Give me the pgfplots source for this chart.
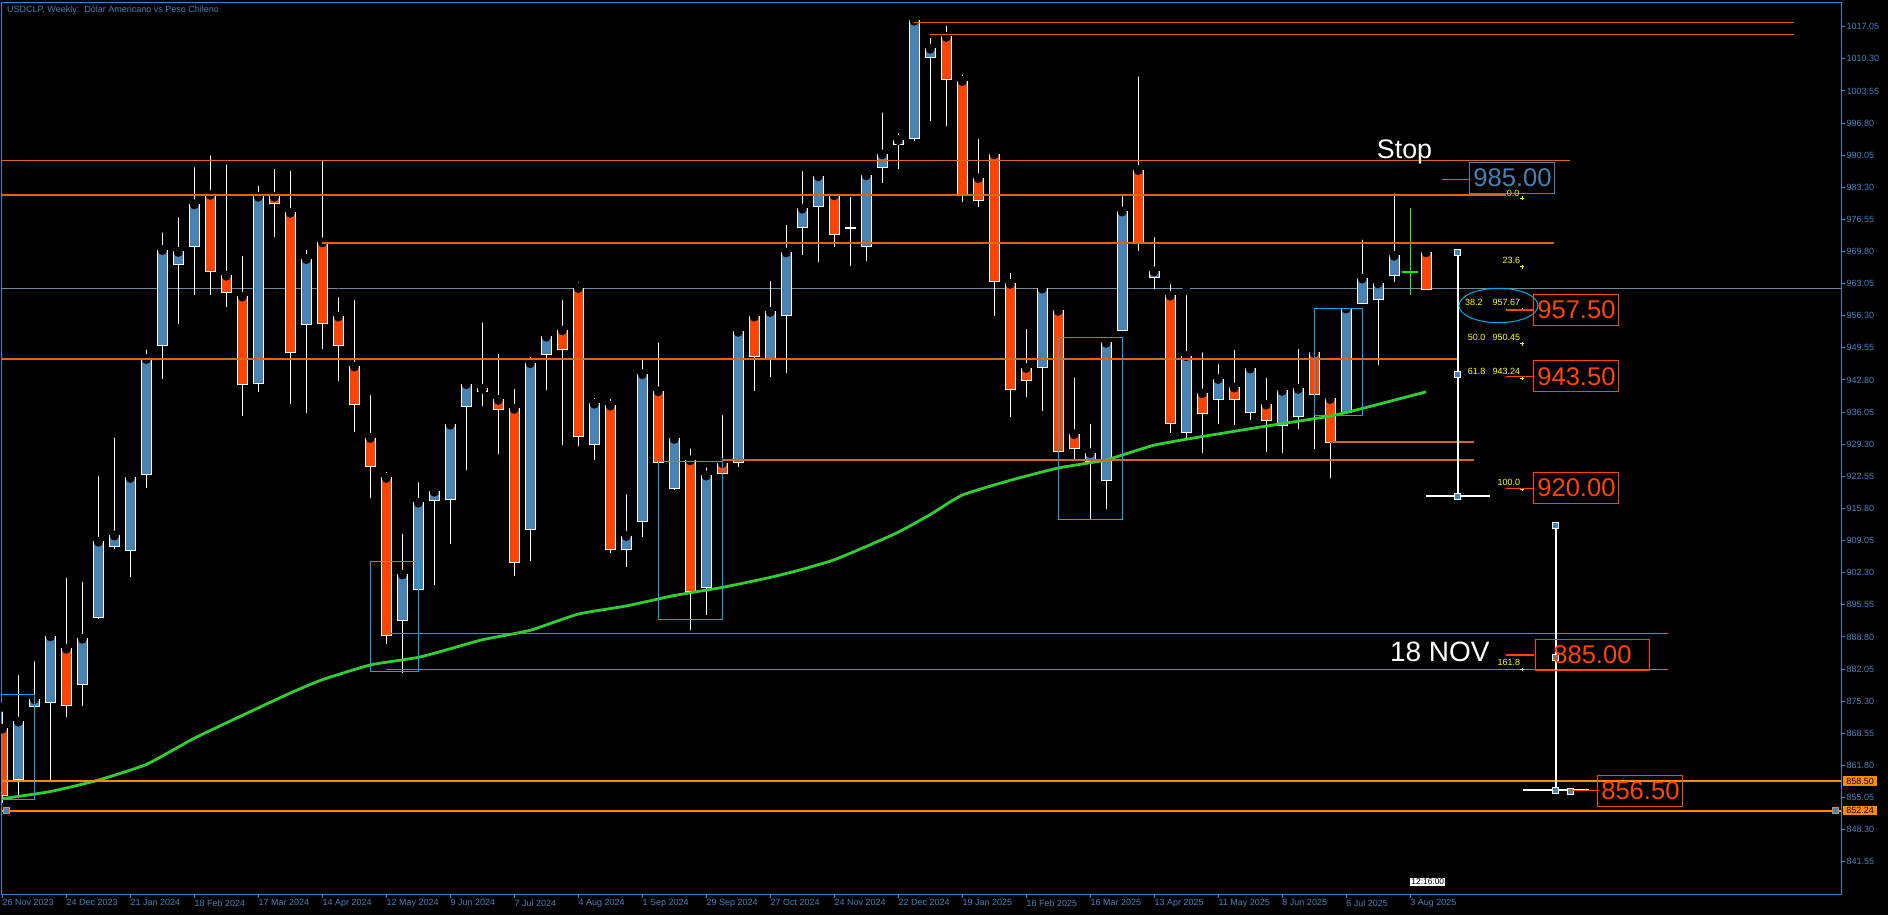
\documentclass[border=0pt]{standalone}
\usepackage{pgfplots}
\pgfplotsset{compat=1.18}
\usepackage{pgfplotstable}
\usepackage{fontspec}
\setmainfont{Liberation Sans}
\definecolor{axc}{RGB}{70,130,190}
\definecolor{bull}{RGB}{70,130,180}
\definecolor{bear}{RGB}{255,69,0}
\definecolor{lvl}{RGB}{210,105,30}
\definecolor{dko}{RGB}{255,140,0}
\definecolor{ma}{RGB}{50,205,50}
\definecolor{bid}{RGB}{119,136,153}
\definecolor{fib}{RGB}{255,255,0}

\pgfplotstableread{
i O H L C
1 858.9 881.7 855.5 870.9
2 874.3 884.6 873.0 875.6
3 875.1 890.6 858.3 888.8
5 878.9 901.3 874.3 888.3
6 893.0 923.5 892.5 908.7
7 908.0 931.6 907.3 910.0
8 907.1 922.6 901.3 922.1
9 923.1 950.1 920.1 947.1
10 950.2 974.7 943.0 970.0
11 967.1 977.9 954.6 969.6
12 971.0 988.4 960.6 979.6
16 942.2 984.5 940.2 981.2
19 954.5 971.0 935.8 968.1
25 892.3 911.4 881.2 901.8
26 898.8 922.2 898.5 916.9
27 917.6 920.3 899.7 919.2
28 917.8 933.5 908.3 933.3
29 937.3 943.0 923.9 941.8
33 911.4 948.6 904.7 946.2
34 948.2 952.5 940.7 951.8
37 929.4 939.9 926.0 937.7
39 907.3 919.7 903.5 909.9
40 913.1 948.0 909.7 943.9
42 920.0 930.5 919.6 930.3
44 899.2 925.3 893.4 922.6
46 925.5 953.6 924.5 952.8
48 947.3 964.5 943.5 957.0
49 956.4 976.3 944.3 969.5
50 974.9 987.6 969.1 978.7
51 979.3 986.5 967.5 985.5
54 970.9 987.7 967.9 985.7
55 987.5 999.9 984.2 990.1
56 992.4 995.5 987.2 993.1
57 993.7 1019.9 993.0 1018.2
58 1010.6 1015.6 997.2 1012.3
65 945.6 962.2 936.3 961.9
68 925.8 934.5 913.4 927.3
69 921.8 951.5 915.7 950.5
70 953.4 982.3 953.0 978.1
72 964.4 973.7 961.9 965.5
74 931.9 961.5 930.3 947.7
76 938.7 947.0 933.5 942.9
78 936.0 946.6 934.4 945.1
80 933.3 942.4 927.5 940.4
81 935.3 950.2 932.5 940.8
84 936.1 958.6 935.8 957.7
85 959.0 973.2 958.8 964.0
86 959.8 963.2 946.0 963.0
87 964.9 982.9 963.3 968.8
}\bulltab

\pgfplotstableread{
i O H L C
0 869.4 874.0 853.8 855.5
4 886.2 902.1 872.0 874.5
13 981.6 990.9 960.6 965.6
14 964.6 989.0 958.1 961.3
15 960.2 969.8 935.3 942.0
17 981.2 988.1 972.9 979.9
18 977.8 987.7 937.7 948.6
20 971.6 989.9 949.3 954.7
21 956.0 961.1 942.6 950.2
22 945.5 960.5 931.8 937.8
23 930.5 940.5 917.9 924.7
24 922.1 924.4 887.3 889.1
30 940.8 955.8 937.4 940.4
31 938.5 949.2 927.3 936.7
32 936.6 941.8 901.6 904.6
35 953.1 960.5 929.2 949.4
36 962.0 964.2 928.9 931.1
38 937.3 939.7 906.4 907.3
41 940.3 951.6 925.3 925.6
43 925.8 929.3 890.2 898.4
45 925.2 936.3 921.5 923.3
47 956.0 956.7 940.5 947.9
52 981.5 982.6 970.7 973.5
59 1014.8 1018.1 996.2 1006.1
60 1005.5 1007.9 980.1 981.8
61 985.1 994.4 979.1 980.6
62 990.1 990.3 956.3 963.6
63 962.9 966.2 935.0 940.8
64 945.2 954.4 939.2 942.7
66 957.2 957.9 927.5 927.9
67 931.3 944.2 926.2 928.4
71 986.8 1007.5 970.0 971.9
73 960.4 963.8 931.7 933.8
75 939.9 949.5 927.4 935.9
77 941.1 950.0 933.3 938.9
79 937.5 944.1 927.7 934.3
82 948.4 948.6 928.3 939.8
83 938.7 938.9 922.2 929.8
89 969.5 971.5 961.7 962.0
}\beartab

\pgfplotstableread{
i v
0 854.8
3 856.3
6 858.7
9 862.0
12 867.5
15 872.3
18 877.0
20 879.8
23 882.9
26 884.5
28 886.3
30 888.2
33 890.2
36 893.6
39 895.3
42 897.5
45 899.2
48 901.3
50 903.0
52 905.0
54 907.8
56 910.8
58 914.5
60 918.6
63 921.7
66 924.3
69 926.0
72 929.1
75 930.9
79 933.1
83 935.2
85 936.8
89 940.3
}\matab

\tikzset{
  bigbox/.style={draw=bear, text=bear, line width=0.5pt, minimum width=42.5pt, minimum height=15.5pt, inner sep=0pt, font=\fontsize{12.8}{13}\selectfont},
  fibt/.style={text=fib, inner sep=0pt, font=\fontsize{4.5}{5}\selectfont},
}

\begin{document}
\begin{tikzpicture}
\useasboundingbox (0,0) rectangle (944pt,457.5pt);
\fill[black] (0,0) rectangle (944pt,457.5pt);
\begin{axis}[
  at={(1pt,10.5pt)}, anchor=south west,
  scale only axis, width=919.5pt, height=445.5pt,
  xmin=-0.02, xmax=114.94, ymin=834.77, ymax=1022.03,
  clip mode=individual,
  axis line style={draw=axc, line width=0.5pt},
  tick align=outside, major tick length=2pt,
  tick style={draw=axc, line width=0.5pt},
  xtick pos=left, ytick pos=right, yticklabel pos=right,
  xtick={0,4,...,88},
  xticklabels={26 Nov 2023,24 Dec 2023,21 Jan 2024,18 Feb 2024,17 Mar 2024,14 Apr 2024,12 May 2024,9 Jun 2024,7 Jul 2024,4 Aug 2024,1 Sep 2024,29 Sep 2024,27 Oct 2024,24 Nov 2024,22 Dec 2024,19 Jan 2025,16 Feb 2025,16 Mar 2025,13 Apr 2025,11 May 2025,8 Jun 2025,6 Jul 2025,3 Aug 2025},
  ytick={841.55,848.30,855.05,861.80,868.55,875.30,882.05,888.80,895.55,902.30,909.05,915.80,922.55,929.30,936.05,942.80,949.55,956.30,963.05,969.80,976.55,983.30,990.05,996.80,1003.55,1010.30,1017.05},
  yticklabels={841.55,848.30,855.05,861.80,868.55,875.30,882.05,888.80,895.55,902.30,909.05,915.80,922.55,929.30,936.05,942.80,949.55,956.30,963.05,969.80,976.55,983.30,990.05,996.80,1003.55,1010.30,1017.05},
  /pgf/number format/assume math mode=true,
  ticklabel style={font=\fontsize{4.5}{5}\selectfont, text=axc},
  xticklabel style={anchor=north west, inner sep=0.6pt, xshift=-0.6pt},
  yticklabel style={anchor=west, inner sep=0.6pt},
]
% bid line
\addplot[bid, line width=0.5pt] coordinates {(-1,962.0) (116,962.0)};
% wicks
\addplot[only marks, mark=none, error bars/.cd, y dir=minus, y explicit, error mark=none, error bar style={draw=white, line width=0.55pt}]
  table[x=i, y=H, y error minus expr=\thisrow{H}-\thisrow{L}] {\bulltab};
\addplot[only marks, mark=none, error bars/.cd, y dir=minus, y explicit, error mark=none, error bar style={draw=white, line width=0.55pt}]
  table[x=i, y=H, y error minus expr=\thisrow{H}-\thisrow{L}] {\beartab};
% bodies: white border
\addplot[only marks, mark=none, error bars/.cd, y dir=minus, y explicit, error mark=none, error bar style={draw=white, line width=5.5pt}]
  table[x=i, y expr=\thisrow{C}+0.21, y error minus expr=\thisrow{C}-\thisrow{O}+0.42] {\bulltab};
\addplot[only marks, mark=none, error bars/.cd, y dir=minus, y explicit, error mark=none, error bar style={draw=white, line width=5.5pt}]
  table[x=i, y expr=\thisrow{O}+0.21, y error minus expr=\thisrow{O}-\thisrow{C}+0.42] {\beartab};
% bodies: fill
\addplot[only marks, mark=none, error bars/.cd, y dir=minus, y explicit, error mark=none, error bar style={draw=bull, line width=4.5pt}]
  table[x=i, y=C, y error minus expr=\thisrow{C}-\thisrow{O}] {\bulltab};
\addplot[only marks, mark=none, error bars/.cd, y dir=minus, y explicit, error mark=none, error bar style={draw=bear, line width=4.5pt}]
  table[x=i, y=O, y error minus expr=\thisrow{O}-\thisrow{C}] {\beartab};
% doji candles
\addplot[white, line width=0.55pt] coordinates {(53,981.3) (53,966.7)};
\addplot[white, line width=1pt] coordinates {(52.65,974.7) (53.35,974.7)};
\addplot[green, line width=0.55pt] coordinates {(88,979.0) (88,960.7)};
\addplot[green, line width=0.55pt] coordinates {(87.5,965.5) (88.5,965.5)};
% moving average
\addplot[ma, line width=1.4pt, smooth, tension=0.3] table[x=i, y=v] {\matab};
% horizontal levels
\addplot[lvl, line width=0.8pt] coordinates {(57,1017.9) (112,1017.9)};
\addplot[lvl, line width=0.8pt] coordinates {(58,1015.4) (112,1015.4)};
\addplot[lvl, line width=0.8pt] coordinates {(-1,988.9) (98,988.9)};
\addplot[lvl, line width=0.8pt] coordinates {(-1,981.7) (94,981.7)};
\addplot[lvl, line width=0.8pt] coordinates {(20,971.6) (97,971.6)};
\addplot[lvl, line width=0.8pt] coordinates {(-1,947.2) (91,947.2)};
\addplot[lvl, line width=0.8pt] coordinates {(83,929.8) (92,929.8)};
\addplot[lvl, line width=0.8pt] coordinates {(45,926.0) (92,926.0)};
\addplot[lvl, line width=0.8pt] coordinates {(24,889.5) (104.1,889.5)};
\addplot[lvl, line width=0.8pt] coordinates {(24,881.95) (104.1,881.95)};
\addplot[dko, line width=0.7pt] coordinates {(-1,858.5) (116,858.5)};
\addplot[dko, line width=0.7pt] coordinates {(-1,852.24) (116,852.24)};
\addplot[only marks, mark=square*, mark size=1.5pt, mark options={fill=bull, draw=dko, line width=0.4pt}] coordinates {(0.25,852.24) (114.6,852.24)};
% cyan boxes
\addplot[cyan, line width=0.5pt] coordinates {(-1,854.6) (2,854.6) (2,876.8) (-1,876.8)};
\addplot[cyan, line width=0.5pt] coordinates {(23,881.6) (26,881.6) (26,904.7) (23,904.7) (23,881.6)};
\addplot[cyan, line width=0.5pt] coordinates {(41,892.4) (45,892.4) (45,925.6) (41,925.6) (41,892.4)};
\addplot[cyan, line width=0.5pt] coordinates {(66,913.4) (70,913.4) (70,951.8) (66,951.8) (66,913.4)};
\addplot[cyan, line width=0.5pt] coordinates {(82,935.3) (85,935.3) (85,957.9) (82,957.9) (82,935.3)};
% price range tools
\addplot[white, line width=1pt] coordinates {(90.98,969.6) (90.98,918.4)};
\addplot[white, line width=1pt] coordinates {(89,918.4) (93,918.4)};
\addplot[white, line width=1pt] coordinates {(97.1,912.3) (97.1,856.6)};
\addplot[white, line width=1pt] coordinates {(95.05,856.6) (99.2,856.6)};
\addplot[only marks, mark=square*, mark size=1.5pt, mark options={fill=bull, draw=white, line width=0.4pt}]
  coordinates {(90.98,969.6) (90.98,944.0) (90.98,918.4) (97.1,912.3) (97.1,884.5) (97.1,856.6) (98.0,856.4)};
% fib markers
\addplot[only marks, mark=+, mark size=0.9pt, mark options={fib, line width=0.4pt}]
  coordinates {(95,981.0) (95,966.6) (95,957.65) (95,950.4) (95,943.15) (95,919.8) (95,881.95)};
% leader lines
\addplot[bear, line width=0.6pt] coordinates {(94,957.5) (95.77,957.5)};
\addplot[bear, line width=0.6pt] coordinates {(94,943.5) (95.77,943.5)};
\addplot[bear, line width=0.6pt] coordinates {(94,920.0) (95.77,920.0)};
\addplot[bear, line width=0.6pt] coordinates {(94,885.0) (95.77,885.0)};
\addplot[bear, line width=0.6pt] coordinates {(98.04,856.5) (99.8,856.5)};
\addplot[bull, line width=0.6pt] coordinates {(90.0,985.0) (91.75,985.0)};
% annotations
\draw[cyan, line width=0.5pt] (axis cs:93.53,958.45) ellipse [x radius=19.75pt, y radius=8.6pt];
\node[bigbox] at (axis cs:98.4,957.55) {957.50};
\node[bigbox] at (axis cs:98.4,943.55) {943.50};
\node[bigbox] at (axis cs:98.4,920.1) {920.00};
\node[bigbox, minimum width=57pt] at (axis cs:99.4,885.0) {885.00};
\node[bigbox] at (axis cs:102.4,856.5) {856.50};
\node[bigbox, draw=bull, text=bull] at (axis cs:94.4,985.3) {985.00};
\node[text=white, inner sep=0pt, anchor=base east, font=\fontsize{13.4}{14}\selectfont] at (axis cs:89.4,989.4) {Stop};
\node[text=white, inner sep=0pt, anchor=base east, font=\fontsize{14}{15}\selectfont] at (axis cs:93.0,883.7) {18 NOV};
\node[fibt, anchor=base east] at (axis cs:94.86,981.3) {0.0};
\node[fibt, anchor=base east] at (axis cs:94.9,967.18) {23.6};
\node[fibt, anchor=base east] at (axis cs:92.56,958.35) {38.2};
\node[fibt, anchor=base east] at (axis cs:94.9,958.35) {957.67};
\node[fibt, anchor=base east] at (axis cs:92.73,951.05) {50.0};
\node[fibt, anchor=base east] at (axis cs:94.9,951.05) {950.45};
\node[fibt, anchor=base east] at (axis cs:92.73,944.0) {61.8};
\node[fibt, anchor=base east] at (axis cs:94.9,944.0) {943.24};
\node[fibt, anchor=base east] at (axis cs:94.9,920.6) {100.0};
\node[fibt, anchor=base east] at (axis cs:94.9,882.7) {161.8};
\node[fill=dko, text=black, inner sep=0pt, minimum width=17pt, minimum height=4.6pt, anchor=west, font=\fontsize{4.5}{5}\selectfont] at ([xshift=0.85pt]axis cs:114.94,858.5) {858.50};
\node[fill=dko, text=black, inner sep=0pt, minimum width=17pt, minimum height=4.6pt, anchor=west, font=\fontsize{4.5}{5}\selectfont] at ([xshift=0.85pt]axis cs:114.94,852.24) {852.24};
\node[fill=white, text=black, inner sep=0.5pt, anchor=west, font=\fontsize{4.2}{5}\selectfont] at (axis cs:88.0,837.3) {12:16:00};
\end{axis}
\node[anchor=base west, text=axc, inner sep=0pt, font=\fontsize{4.5}{5}\selectfont] at (3.35pt,451.15pt) {USDCLP, Weekly:\ \ Dólar Americano vs Peso Chileno};
\end{tikzpicture}
\end{document}
